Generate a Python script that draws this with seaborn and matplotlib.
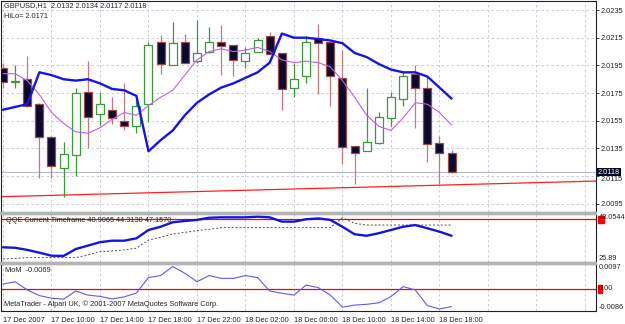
import pandas as pd
import seaborn as sns
import matplotlib.pyplot as plt
from matplotlib.patches import Rectangle
from matplotlib.transforms import offset_copy

sns.set_style('white')
plt.rcParams['font.family'] = ['Liberation Sans', 'DejaVu Sans']

# GBPUSD H1, one entry per bar (17 Dec 06:00 ... 18 Dec 19:00)
bars = list(range(38))
opens = [2.0193, 2.0183, 2.0185, 2.0167, 2.0143, 2.0121, 2.0130, 2.0176, 2.0160, 2.0163,
         2.0155, 2.0151, 2.0167, 2.0212, 2.0195, 2.0212, 2.0198, 2.0205, 2.0212, 2.0210,
         2.0198, 2.0205, 2.0216, 2.0204, 2.0179, 2.0187, 2.0215, 2.0212, 2.0186, 2.0137,
         2.0133, 2.0139, 2.0157, 2.0171, 2.0189, 2.0179, 2.0139, 2.0132]
highs = [2.0197, 2.0195, 2.0202, 2.0168, 2.0144, 2.0140, 2.0179, 2.0198, 2.0176, 2.0172,
         2.0182, 2.0170, 2.0212, 2.0217, 2.0226, 2.0218, 2.0228, 2.0223, 2.0224, 2.0210,
         2.0208, 2.0215, 2.0219, 2.0204, 2.0197, 2.0216, 2.0225, 2.0212, 2.0206, 2.0137,
         2.0179, 2.0161, 2.0176, 2.0191, 2.0195, 2.0187, 2.0144, 2.0134]
lows = [2.0179, 2.0179, 2.0165, 2.0114, 2.0114, 2.0100, 2.0115, 2.0135, 2.0152, 2.0153,
        2.0148, 2.0146, 2.0154, 2.0189, 2.0195, 2.0197, 2.0197, 2.0204, 2.0188, 2.0187,
        2.0193, 2.0205, 2.0203, 2.0163, 2.0172, 2.0182, 2.0174, 2.0166, 2.0124, 2.0109,
        2.0133, 2.0138, 2.0151, 2.0166, 2.0150, 2.0125, 2.0109, 2.0117]
closes = [2.0183, 2.0184, 2.0166, 2.0143, 2.0122, 2.0131, 2.0175, 2.0158, 2.0167, 2.0157,
          2.0151, 2.0166, 2.0210, 2.0196, 2.0211, 2.0197, 2.0204, 2.0212, 2.0209, 2.0199,
          2.0204, 2.0213, 2.0203, 2.0178, 2.0185, 2.0212, 2.0211, 2.0187, 2.0136, 2.0132,
          2.0140, 2.0158, 2.0172, 2.0187, 2.0179, 2.0138, 2.0132, 2.0118]
hilo = [2.0163, 2.0165, 2.0167, 2.0190, 2.0188, 2.0185, 2.0184, 2.0185, 2.0182, 2.0178,
        2.0177, 2.0173, 2.0133, 2.0141, 2.0148, 2.0159, 2.0168, 2.0174, 2.0179, 2.0182,
        2.0186, 2.0190, 2.0197, 2.0218, 2.0215, 2.0215, 2.0214, 2.0213, 2.0211, 2.0204,
        2.0201, 2.0196, 2.0192, 2.0190, 2.0190, 2.0187, 2.0179, 2.0171]
ma = [2.0189, 2.0189, 2.0184, 2.0174, 2.0161, 2.0153, 2.0147, 2.0146, 2.0150, 2.0156,
      2.0161, 2.0159, 2.0166, 2.0172, 2.0177, 2.0188, 2.0199, 2.0205, 2.0207, 2.0205,
      2.0206, 2.0208, 2.0205, 2.0199, 2.0197, 2.0198, 2.0197, 2.0194, 2.0184, 2.0172,
      2.0159, 2.0151, 2.0148, 2.0157, 2.0168, 2.0167, 2.0161, 2.0152]
qqe_rsi = [32.5, 32.3, 31.3, 30.0, 28.6, 28.5, 31.7, 33.3, 34.9, 35.6,
           35.6, 36.7, 40.6, 42.1, 44.2, 44.8, 45.3, 46.3, 46.5, 46.5,
           46.5, 46.8, 46.5, 44.5, 44.5, 45.6, 46.0, 45.3, 42.1, 38.6,
           37.9, 39.1, 40.6, 42.1, 42.9, 41.4, 39.8, 37.9]
qqe_trail = [27.1, 27.3, 27.7, 27.7, 27.7, 27.7, 27.7, 28.9, 30.5, 30.8,
             31.3, 32.1, 35.9, 37.2, 38.7, 39.5, 40.3, 40.9, 41.7, 41.7,
             41.7, 41.7, 41.7, 41.7, 41.7, 41.7, 41.7, 41.7, 46.3, 43.7,
             42.9, 42.9, 42.9, 42.9, 42.9, 42.9, 42.9, 42.9]
mom = [0.0019, 0.0028, -0.0004, -0.0026, -0.0036, -0.0040, -0.0008, -0.0024, -0.0029, -0.0039,
       -0.0031, -0.0016, 0.0044, 0.0052, 0.0087, 0.0061, 0.0028, 0.0052, 0.0041, 0.0041,
       0.0052, 0.0044, -0.0008, -0.0017, -0.0024, 0.0015, 0.0005, -0.0024, -0.0071, -0.0063,
       -0.0060, -0.0054, -0.0030, 0.0009, -0.0004, -0.0065, -0.0078, -0.0069]

trend_bars = [-1, 49]
trend_prices = [2.01000, 2.01115]
last_price = 2.0118
price_ticks = [2.0235, 2.0215, 2.0195, 2.0175, 2.0155, 2.0135, 2.0115, 2.0095]
qqe_level = 45.6
qqe_range = [25.89, 48.0544]
mom_range = [-0.0086, 0.0097]
time_labels = ['17 Dec 2007', '17 Dec 10:00', '17 Dec 14:00', '17 Dec 18:00', '17 Dec 22:00',
               '18 Dec 02:00', '18 Dec 06:00', '18 Dec 10:00', '18 Dec 14:00', '18 Dec 18:00']

df = pd.DataFrame({'bar': bars, 'open': opens, 'high': highs, 'low': lows, 'close': closes,
                   'hilo': hilo, 'ma': ma, 'qqe': qqe_rsi, 'trail': qqe_trail, 'mom': mom})

W, H = 625, 324
fs = 5.3
grid_kw = dict(color='#c4c4d8', linestyle=(0, (3, 3)), linewidth=0.6)


def box(l, t, r, b):
    return [l / W, 1 - b / H, (r - l) / W, (b - t) / H]


def ftext(x, y, s, **kw):
    fig.text(x / W, 1 - y / H, s, fontsize=fs, va='center', ha='left', **kw)


fig = plt.figure(figsize=(W / 100, H / 100), dpi=100)
ax = fig.add_axes(box(1, 1, 595.5, 211.5))
axq = fig.add_axes(box(1, 214, 595.5, 261.5))
axm = fig.add_axes(box(1, 264, 595.5, 311))

# thin grey separators between the windows
for t in (212, 262):
    fig.patches.append(Rectangle((0, 1 - (t + 1.5) / H), 596 / W, 1.5 / H,
                                 transform=fig.transFigure, color='#b4b4b4', zorder=0))

xlim = (-0.165, 48.87)
xt = list(range(0, 49, 4))

# --- price window
ax.axhline(last_price, color='#b4b8d4', lw=0.8, zorder=1)
sns.lineplot(x=trend_bars, y=trend_prices, ax=ax, color='#ff2020', lw=0.9)
for _, r in df.iterrows():
    up = r['close'] >= r['open']
    wick = '#3a9a3a' if up else '#c87878'
    ax.vlines(r['bar'], r['low'], r['high'], color=wick, lw=0.9, zorder=2)
    lo, hi = min(r['open'], r['close']), max(r['open'], r['close'])
    ax.bar(r['bar'], max(hi - lo, 0.00003), bottom=lo, width=0.66,
           facecolor='white' if up else '#0a0a2e',
           edgecolor='#3a9a3a' if up else '#a04848', lw=0.9, zorder=3)
sns.lineplot(data=df, x='bar', y='ma', ax=ax, color='#c060e8', lw=0.8, zorder=4)
sns.lineplot(data=df, x='bar', y='hilo', ax=ax, color='#1414f0', lw=1.7, zorder=5)

ax.set_xlim(*xlim)
ax.set_ylim(2.00895, 2.02415)
ax.set_xticks(xt)
ax.set_yticks(price_ticks)
ax.set_yticklabels([f'{p:.4f}' for p in price_ticks])
ax.yaxis.tick_right()
ax.tick_params(axis='y', length=2.5, width=0.6, pad=1.5, labelsize=fs)
ax.tick_params(axis='x', length=0, labelbottom=False)
# the lowest-but-one label sits just under the current price box
lab = ax.get_yticklabels()[6]
lab.set_transform(offset_copy(lab.get_transform(), fig=fig, y=-2, units='dots'))
ax.grid(True, **grid_kw)
ax.text(1.004, last_price, '2.0118', transform=ax.get_yaxis_transform(), color='white',
        fontsize=fs, va='center', ha='left', zorder=10,
        bbox=dict(boxstyle='square,pad=0.08', fc='#000020', ec='none'))

# --- QQE window
axq.axhline(qqe_level, color='#ff0000', lw=0.9, zorder=1)
sns.lineplot(data=df, x='bar', y='trail', ax=axq, color='#505050', lw=0.7,
             linestyle=(0, (2, 2)), zorder=3)
sns.lineplot(data=df, x='bar', y='qqe', ax=axq, color='#1414e0', lw=1.7, zorder=4)
axq.set_xlim(*xlim)
axq.set_ylim(*qqe_range)
axq.set_xticks(xt)
axq.set_yticks([])
axq.tick_params(axis='x', length=0, labelbottom=False)
axq.grid(True, axis='x', **grid_kw)
axq.add_patch(Rectangle((1.004, (qqe_level - qqe_range[0]) / (qqe_range[1] - qqe_range[0]) - 0.07),
                        0.011, 0.14, transform=axq.transAxes, color='#ff0000', clip_on=False))
axq.text(1.006, 1.0, f'{qqe_range[1]:.4f}', transform=axq.transAxes, fontsize=fs, va='top', ha='left')
axq.text(1.006, 0.0, f'{qqe_range[0]:.2f}', transform=axq.transAxes, fontsize=fs, va='bottom', ha='left')

# --- Momentum window
axm.axhline(0, color='#ff0000', lw=0.9, zorder=1)
sns.lineplot(data=df, x='bar', y='mom', ax=axm, color='#5a5aff', lw=0.8, zorder=3)
axm.set_xlim(*xlim)
axm.set_ylim(*mom_range)
axm.set_yticks([])
axm.set_xticks(xt)
axm.set_xticklabels(time_labels + [''] * (len(xt) - len(time_labels)))
for lab in axm.get_xticklabels():
    lab.set_ha('left')
axm.tick_params(axis='x', length=3, width=0.6, pad=1, labelsize=fs)
axm.grid(True, axis='x', **grid_kw)
zero_frac = -mom_range[0] / (mom_range[1] - mom_range[0])
axm.add_patch(Rectangle((1.004, zero_frac - 0.08), 0.007, 0.16, transform=axm.transAxes,
                        color='#ff0000', clip_on=False))
axm.text(1.006, zero_frac, '0.00', transform=axm.transAxes, fontsize=fs, va='center', ha='left')
axm.text(1.006, 1.0, f'{mom_range[1]:.4f}', transform=axm.transAxes, fontsize=fs, va='top', ha='left')
axm.text(1.006, 0.0, f'{mom_range[0]:.4f}', transform=axm.transAxes, fontsize=fs, va='bottom', ha='left')

for a in (ax, axq, axm):
    a.set_xlabel('')
    a.set_ylabel('')
    for s in a.spines.values():
        s.set_color('#202020')
        s.set_linewidth(0.8)

ftext(4, 6, 'GBPUSD,H1  2.0132 2.0134 2.0117 2.0118')
ftext(4, 16, 'HiLo= 2.0171')
ftext(6, 220, 'QQE Current Timeframe 40.9065 44.3130 47.1570')
ftext(5, 271, 'MoM  -0.0069')
ftext(4, 304, 'MetaTrader - Alpari UK, \u00a9 2001-2007 MetaQuotes Software Corp.')

fig.savefig('out.png', dpi=100)
